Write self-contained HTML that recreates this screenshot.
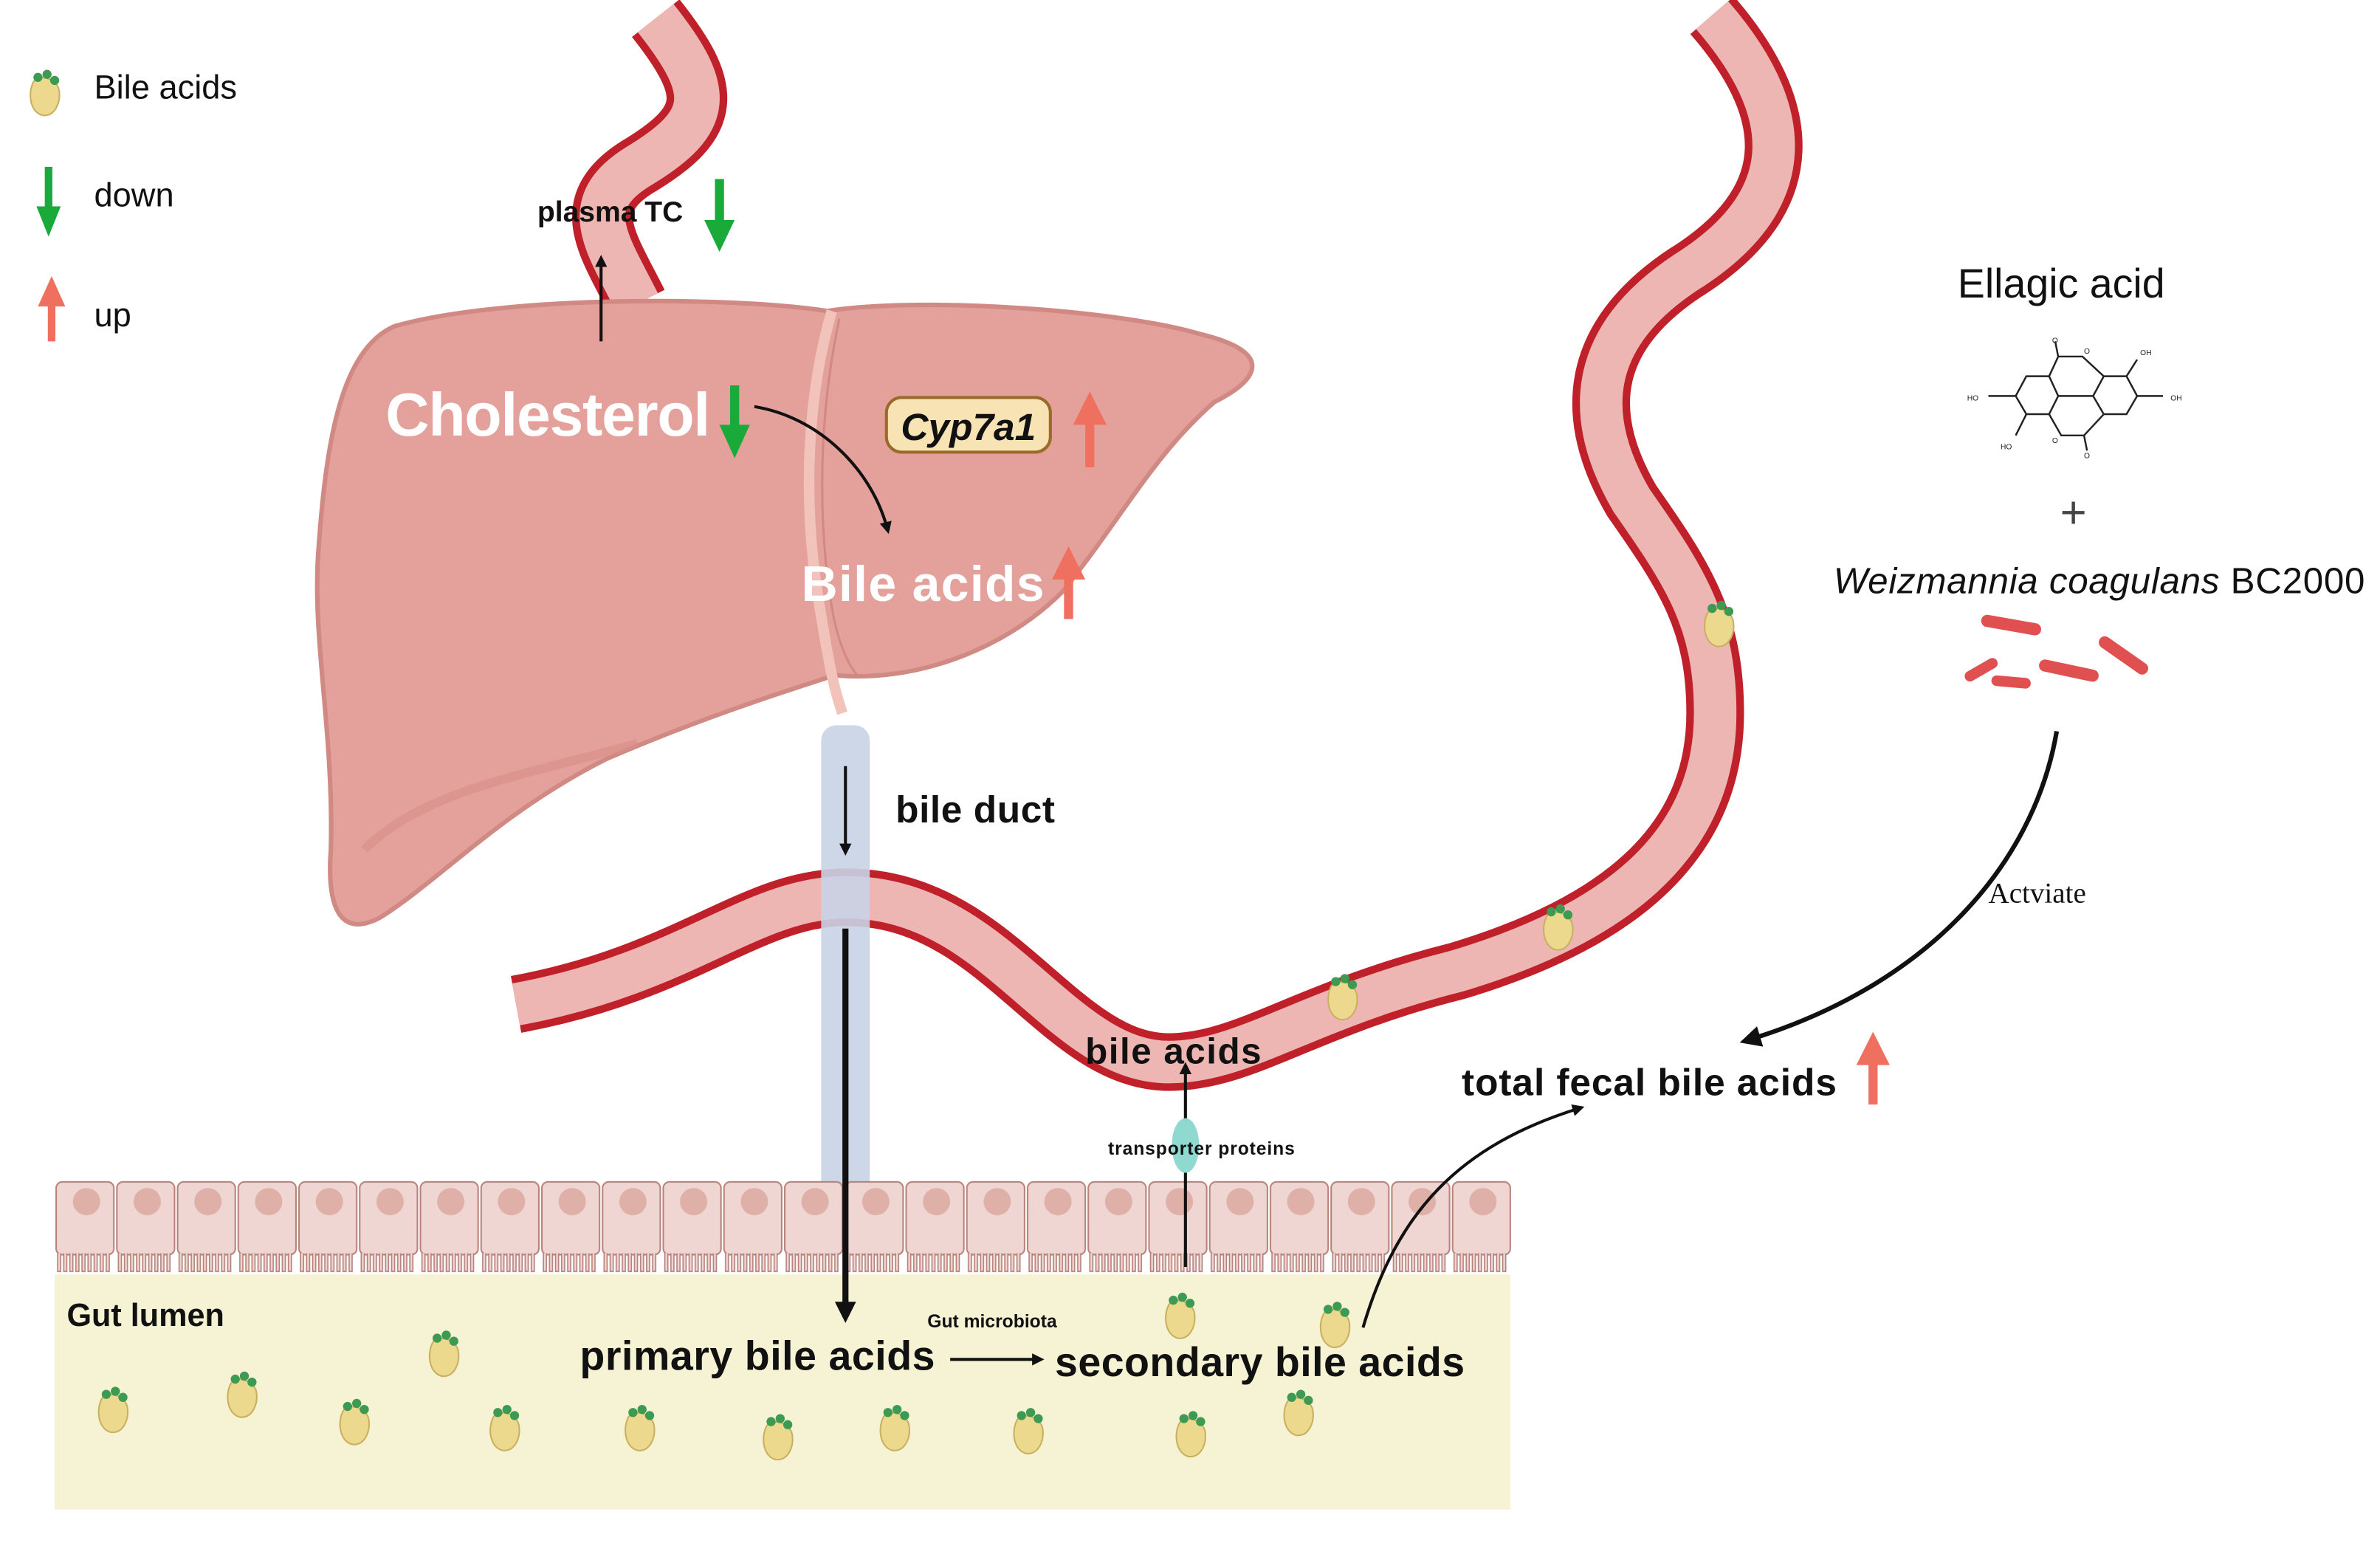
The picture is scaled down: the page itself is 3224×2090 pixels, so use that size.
<!DOCTYPE html>
<html><head><meta charset="utf-8"><style>
html,body{margin:0;padding:0;background:#fff;}
svg{display:block;}
text{font-family:"Liberation Sans",sans-serif;}
</style></head><body>
<svg width="3224" height="2090" viewBox="0 0 1568 1017" preserveAspectRatio="none" xmlns="http://www.w3.org/2000/svg">
<defs>
<marker id="ah" markerWidth="8" markerHeight="8" refX="6" refY="4" orient="auto" markerUnits="userSpaceOnUse"><path d="M0,0 L8,4 L0,8 z" fill="#111"/></marker>
<marker id="ahb" markerWidth="14" markerHeight="14" refX="10" refY="7" orient="auto" markerUnits="userSpaceOnUse"><path d="M0,0 L14,7 L0,14 z" fill="#111"/></marker>
<pattern id="cells" x="36" y="778" width="40" height="64" patternUnits="userSpaceOnUse">
<rect x="1" y="1" width="38" height="48" rx="4" fill="#efd6d2" stroke="#b8827c" stroke-width="1"/>
<circle cx="21" cy="14" r="9" fill="#dfb0a8"/>
<path d="M2,48 v12 h2 v-12 M6,48 v12 h2 v-12 M10,48 v12 h2 v-12 M14,48 v12 h2 v-12 M18,48 v12 h2 v-12 M22,48 v12 h2 v-12 M26,48 v12 h2 v-12 M30,48 v12 h2 v-12 M34,48 v12 h2 v-12" fill="#efd6d2" stroke="#b8827c" stroke-width="0.8"/>
</pattern>
<g id="ba">
<path d="M-8,-8 C-12,0 -10,12 -2,14 C6,15 10,6 9,-2 C8,-10 -4,-14 -8,-8 z" fill="#ecd98e" stroke="#c9b060" stroke-width="1"/>
<circle cx="-5" cy="-11" r="3" fill="#3d9a52"/><circle cx="1" cy="-13" r="3" fill="#3d9a52"/><circle cx="6" cy="-9" r="3" fill="#3d9a52"/>
</g>
</defs>

<!-- legend -->
<use href="#ba" x="30" y="62"/>
<text x="62" y="65" font-size="22" fill="#111">Bile acids</text>
<path d="M32,110 V140" stroke="#1aaa3a" stroke-width="5"/><path d="M24,136 L40,136 L32,156 z" fill="#1aaa3a"/>
<text x="62" y="136" font-size="22" fill="#111">down</text>
<path d="M34,225 V200" stroke="#f07060" stroke-width="5"/><path d="M25,202 L43,202 L34,182 z" fill="#f07060"/>
<text x="62" y="215" font-size="22" fill="#111">up</text>

<!-- top vessel -->
<path d="M432,12 C470,60 470,80 420,110 C380,135 400,160 420,200" fill="none" stroke="#c0202a" stroke-width="40"/>
<path d="M432,12 C470,60 470,80 420,110 C380,135 400,160 420,200" fill="none" stroke="#eeb6b2" stroke-width="30"/>

<!-- big vessel -->
<path d="M1128,10 C1180,70 1190,130 1110,180 C1050,220 1040,270 1075,330 C1110,380 1130,410 1130,470 C1130,560 1060,610 960,640 C860,665 820,700 770,700 C700,700 660,600 570,592 C500,585 460,640 340,662" fill="none" stroke="#c0202a" stroke-width="38"/>
<path d="M1128,10 C1180,70 1190,130 1110,180 C1050,220 1040,270 1075,330 C1110,380 1130,410 1130,470 C1130,560 1060,610 960,640 C860,665 820,700 770,700 C700,700 660,600 570,592 C500,585 460,640 340,662" fill="none" stroke="#eeb6b2" stroke-width="28"/>
<use href="#ba" x="1133" y="412"/><use href="#ba" x="1027" y="612"/><use href="#ba" x="885" y="658"/>

<!-- liver -->
<path d="M260,215 C330,195 480,195 545,205 C610,195 740,205 790,220 C840,232 830,250 800,265 C760,300 740,340 700,390 C660,430 600,450 550,445 C520,455 470,470 400,500 C330,535 290,580 250,605 C225,618 215,600 218,560 C220,480 205,420 210,360 C215,290 225,230 260,215 z" fill="#e4a19b" stroke="#d08a83" stroke-width="3"/>
<path d="M548,205 C532,260 528,330 540,400 C545,430 548,450 555,470" fill="none" stroke="#f2c3bb" stroke-width="7"/>
<path d="M553,210 C540,270 538,340 548,400 C552,425 560,440 565,445" fill="none" stroke="#d08a83" stroke-width="1.5"/>
<path d="M240,560 C280,520 350,510 420,490" fill="none" stroke="#d88e87" stroke-width="6" opacity="0.6"/>

<!-- bile duct -->
<rect x="541" y="478" width="32" height="332" rx="10" fill="#c9d3e6" opacity="0.9"/>

<!-- gut -->
<rect x="36" y="840" width="959" height="155" fill="#f6f3d4"/>
<rect x="36" y="778" width="960" height="64" fill="url(#cells)"/>
<text x="44" y="874" font-size="21" font-weight="bold" fill="#111">Gut lumen</text>
<g>
<use href="#ba" x="75" y="930"/><use href="#ba" x="160" y="920"/><use href="#ba" x="234" y="938"/><use href="#ba" x="293" y="893"/><use href="#ba" x="333" y="942"/><use href="#ba" x="422" y="942"/><use href="#ba" x="513" y="948"/><use href="#ba" x="590" y="942"/><use href="#ba" x="678" y="944"/><use href="#ba" x="785" y="946"/><use href="#ba" x="856" y="932"/><use href="#ba" x="778" y="868"/><use href="#ba" x="880" y="874"/>
</g>

<!-- arrows -->
<path d="M396,225 V170" stroke="#111" stroke-width="2" marker-end="url(#ah)"/>
<path d="M557,505 V562" stroke="#111" stroke-width="2" marker-end="url(#ah)"/>
<path d="M557,612 V868" stroke="#111" stroke-width="4" marker-end="url(#ahb)"/>
<path d="M497,268 C540,275 575,310 585,350" fill="none" stroke="#111" stroke-width="2" marker-end="url(#ah)"/>
<path d="M626,896 H686" stroke="#111" stroke-width="2" marker-end="url(#ah)"/>
<path d="M781,835 V702" stroke="#111" stroke-width="2" marker-end="url(#ah)"/>
<ellipse cx="781" cy="755" rx="9" ry="18" fill="#8fd9d1"/>
<path d="M898,875 C920,800 960,755 1042,730" fill="none" stroke="#111" stroke-width="2" marker-end="url(#ah)"/>
<path d="M1355,482 C1340,570 1270,650 1150,686" fill="none" stroke="#111" stroke-width="3" marker-end="url(#ahb)"/>

<!-- texts -->
<text x="354" y="146" font-size="19" font-weight="bold" fill="#111">plasma TC</text>
<path d="M474,118 V148" stroke="#1aaa3a" stroke-width="6"/><path d="M464,145 L484,145 L474,166 z" fill="#1aaa3a"/>
<text x="254" y="287" font-size="40" font-weight="bold" fill="#fff" textLength="214">Cholesterol</text>
<path d="M484,254 V282" stroke="#1aaa3a" stroke-width="6"/><path d="M474,280 L494,280 L484,302 z" fill="#1aaa3a"/>
<rect x="584" y="262" width="108" height="36" rx="10" fill="#f8e3b5" stroke="#9a6a2a" stroke-width="2"/>
<text x="638" y="290" font-size="25" font-weight="bold" font-style="italic" text-anchor="middle" fill="#111">Cyp7a1</text>
<path d="M718,308 V278" stroke="#f07060" stroke-width="6"/><path d="M707,280 L729,280 L718,258 z" fill="#f07060"/>
<text x="528" y="396" font-size="33" font-weight="bold" fill="#fff" textLength="160">Bile acids</text>
<path d="M704,408 V380" stroke="#f07060" stroke-width="6"/><path d="M693,382 L715,382 L704,360 z" fill="#f07060"/>
<text x="590" y="542" font-size="25" font-weight="bold" fill="#111" textLength="105">bile duct</text>
<text x="715" y="701" font-size="24" font-weight="bold" fill="#111" textLength="116">bile acids</text>
<text x="730" y="761" font-size="12" font-weight="bold" fill="#111" textLength="123">transporter proteins</text>
<text x="382" y="903" font-size="27" font-weight="bold" fill="#111" textLength="234">primary bile acids</text>
<text x="611" y="875" font-size="12" font-weight="bold" fill="#111">Gut microbiota</text>
<text x="695" y="907" font-size="27" font-weight="bold" fill="#111" textLength="270">secondary bile acids</text>
<text x="963" y="722" font-size="25" font-weight="bold" fill="#111" textLength="247">total fecal bile acids</text>
<path d="M1234,728 V700" stroke="#f07060" stroke-width="6"/><path d="M1223,702 L1245,702 L1234,680 z" fill="#f07060"/>
<text x="1358" y="196" font-size="27" text-anchor="middle" fill="#111">Ellagic acid</text>
<text x="1366" y="348" font-size="30" text-anchor="middle" fill="#444">+</text>
<text x="1208" y="391" font-size="24" fill="#111" textLength="350"><tspan font-style="italic">Weizmannia coagulans</tspan> BC2000</text>
<text x="1310" y="595" font-size="19" fill="#111" style="font-family:'Liberation Serif',serif">Actviate</text>

<!-- ellagic acid structure -->
<g stroke="#222" stroke-width="1.2" fill="none">
<path d="M1335,248 L1350,248 L1356,261 L1350,273 L1335,273 L1328,261 z"/>
<path d="M1386,248 L1401,248 L1408,261 L1401,273 L1386,273 L1379,261 z"/>
<path d="M1350,248 L1356,235 L1372,235 L1386,248 M1356,261 L1379,261 M1350,273 L1358,287 L1373,287 L1386,273"/>
<path d="M1356,235 L1354,225 M1373,287 L1375,297"/>
<path d="M1328,261 L1310,261 M1335,273 L1328,287 M1401,248 L1408,237 M1408,261 L1425,261"/>
</g>
<g font-size="5" fill="#222"><text x="1296" y="264">HO</text><text x="1318" y="296">HO</text><text x="1410" y="234">OH</text><text x="1430" y="264">OH</text><text x="1373" y="233">O</text><text x="1352" y="292">O</text><text x="1352" y="226">O</text><text x="1373" y="302">O</text></g>

<!-- bacteria -->
<g fill="#e05050">
<rect x="1305" y="408" width="40" height="8" rx="4" transform="rotate(10 1325 412)"/>
<rect x="1380" y="428" width="38" height="8" rx="4" transform="rotate(35 1399 432)"/>
<rect x="1343" y="438" width="40" height="8" rx="4" transform="rotate(12 1363 442)"/>
<rect x="1293" y="438" width="24" height="7" rx="3.5" transform="rotate(-30 1305 441)"/>
<rect x="1312" y="446" width="26" height="7" rx="3.5" transform="rotate(5 1325 449)"/>
</g>
</svg>
</body></html>
